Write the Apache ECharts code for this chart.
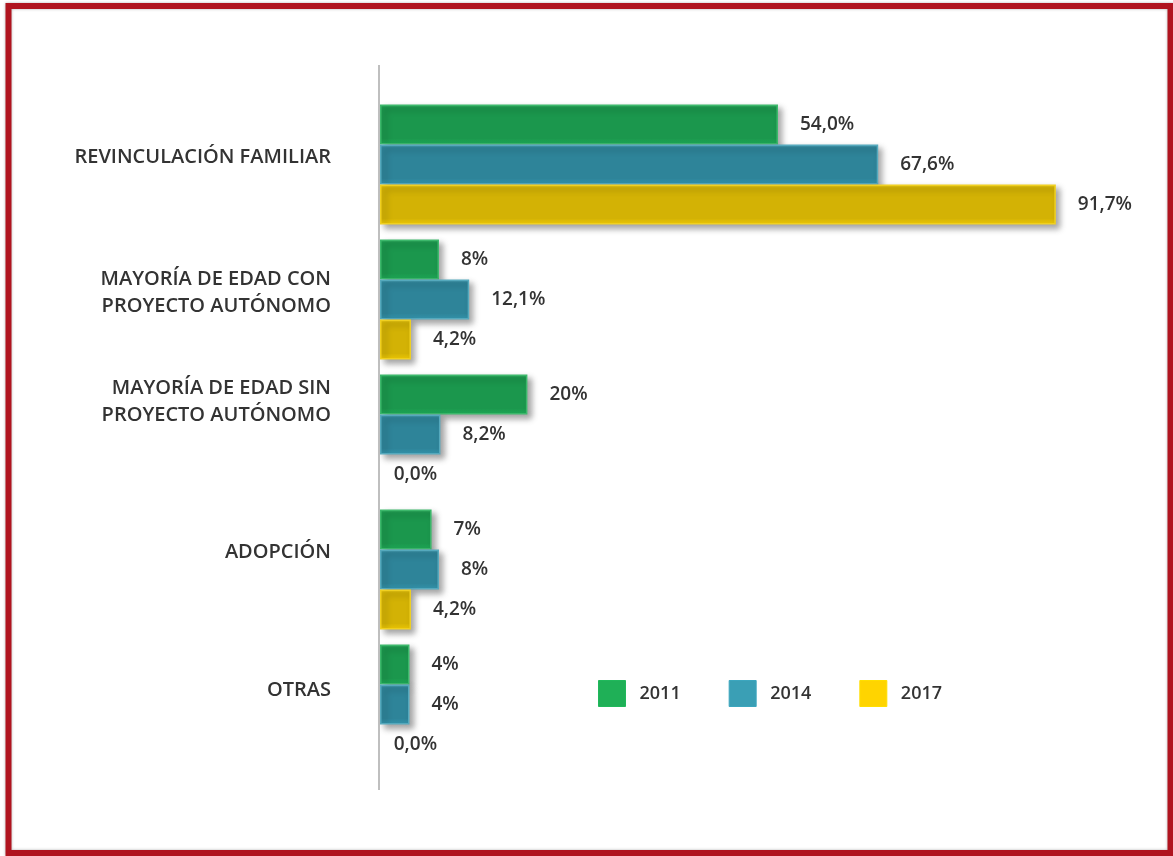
<!DOCTYPE html>
<html>
<head>
<meta charset="utf-8">
<script src="https://cdn.jsdelivr.net/npm/echarts@6/dist/echarts.min.js"></script>
<style>
  html, body { margin: 0; padding: 0; background: #fff; }
  #chart { width: 1173px; height: 856px; }
</style>
</head>
<body>
<div id="chart"></div>
<script>
// categorias (de arriba hacia abajo)
const categories = [
    'REVINCULACIÓN FAMILIAR',
    'MAYORÍA DE EDAD CON\nPROYECTO AUTÓNOMO',
    'MAYORÍA DE EDAD SIN\nPROYECTO AUTÓNOMO',
    'ADOPCIÓN',
    'OTRAS'
];
const years = ['2011', '2014', '2017'];

const values2011 = [54.0, 8, 20, 7, 4];
const values2014 = [67.6, 12.1, 8.2, 8, 4];
const values2017 = [91.7, 4.2, 0.0, 4.2, 0.0];

const labels2011 = ['54,0%', '8%', '20%', '7%', '4%'];
const labels2014 = ['67,6%', '12,1%', '8,2%', '8%', '4%'];
const labels2017 = ['91,7%', '4,2%', '0,0%', '4,2%', '0,0%'];

const fillColors = ['#1b974d', '#2e8499', '#d3b205'];
const edgeColors = ['#3cb86b', '#55a9bd', '#f0d020'];
const legendColors = ['#1fb057', '#3a9fb5', '#ffd400'];

const FONT = '"Open Sans", Lato, sans-serif';

let myChart = echarts.init(document.getElementById('chart'));

// desplazamiento de las etiquetas de categoria hacia arriba (px)
const shiftUp = [7, 7, 33, 17, 14];
let richStyles = {};
shiftUp.forEach((s, i) => {
    richStyles['c' + i] = {
        color: '#333',
        fontFamily: FONT,
        fontSize: 20,
        fontWeight: 600,
        lineHeight: 27,
        padding: [0, 0, s * 2, 0]
    };
});

function makeSeries(idx, values, labels){
    return {
        name: years[idx],
        type: 'bar',
        barWidth: 40,
        barGap: '0%',
        data: values.map((v, i) => {
            let item = { value: v, label: { distance: v === 0 ? 13 : 22 } };
            if(v === 0){
                item.itemStyle = { color: 'transparent', borderColor: 'transparent', shadowColor: 'transparent' };
            }
            return item;
        }),
        itemStyle: {
            color: new echarts.graphic.LinearGradient(0, 0, 0, 1, [
                { offset: 0, color: edgeColors[idx] },
                { offset: 0.08, color: fillColors[idx] },
                { offset: 0.85, color: fillColors[idx] },
                { offset: 1, color: echarts.color.lift(fillColors[idx], -0.15) }
            ]),
            borderColor: edgeColors[idx],
            borderWidth: 1.5,
            shadowColor: 'rgba(0,0,0,0.35)',
            shadowBlur: 6,
            shadowOffsetX: 4,
            shadowOffsetY: 4
        },
        label: {
            show: true,
            position: 'right',
            formatter: p => labels[p.dataIndex],
            color: '#333',
            fontFamily: FONT,
            fontSize: 19,
            fontWeight: 600
        },
        emphasis: { disabled: true }
    }
}

let option = {
    animation: false,
    backgroundColor: '#fff',
    grid: { left: 380, top: 97, width: 737, height: 675 },
    xAxis: {
        type: 'value',
        min: 0,
        max: 100,
        show: false
    },
    yAxis: {
        type: 'category',
        inverse: true,
        data: categories,
        axisLine: { show: false },
        axisTick: { show: false },
        axisLabel: {
            margin: 49,
            align: 'right',
            formatter: (v, i) => v.split('\n').map(l => `{c${i}|${l}}`).join('\n'),
            rich: richStyles
        }
    },
    legend: {
        data: years.map((y, i) => ({
            name: y,
            itemStyle: { color: legendColors[i], borderColor: echarts.color.lift(legendColors[i], -0.05), borderWidth: 1, shadowBlur: 0, shadowOffsetX: 0, shadowOffsetY: 0 }
        })),
        left: 598,
        top: 680,
        padding: 0,
        itemWidth: 27,
        itemHeight: 26,
        itemGap: 48,
        icon: 'rect',
        textStyle: { color: '#333', fontFamily: FONT, fontSize: 18, fontWeight: 600, padding: [0, 0, 0, 9] },
        selectedMode: false
    },
    color: legendColors,
    graphic: [
        {
            type: 'line',
            shape: { x1: 379, y1: 65, x2: 379, y2: 790 },
            style: { stroke: '#aaa', lineWidth: 1.5 },
            z: 10
        },
        {
            type: 'rect',
            shape: { x: 8.5, y: 6, width: 1162, height: 847 },
            style: {
                fill: 'none',
                stroke: '#b0141f',
                lineWidth: 6,
                shadowColor: 'rgba(0,0,0,0.3)',
                shadowBlur: 3
            },
            z: 20
        }
    ],
    series: [
        makeSeries(0, values2011, labels2011),
        makeSeries(1, values2014, labels2014),
        makeSeries(2, values2017, labels2017)
    ]
};

option && myChart.setOption(option);
</script>
</body>
</html>
